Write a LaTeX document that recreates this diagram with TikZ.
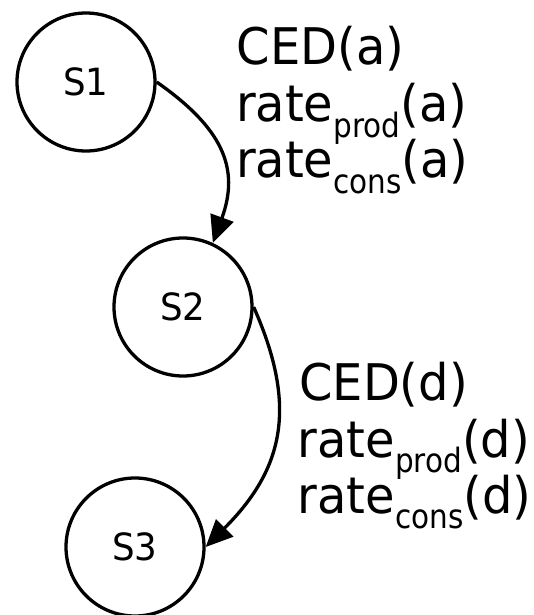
\documentclass[tikz,border=0pt]{standalone}
\usepackage{fontspec}
\setmainfont{DejaVu Sans}[FakeStretch=0.95]
\newfontfamily\subfont{DejaVu Sans}[FakeStretch=0.88]
\usetikzlibrary{arrows.meta}
% lowered, smaller index text (rate_prod, rate_cons)
\newcommand\lowsub[1]{\lower15.5pt\hbox{\subfont\fontsize{33.5pt}{36pt}\selectfont #1}}
\begin{document}
\begin{tikzpicture}[x=1pt,y=1pt,
  state/.style={circle,draw,line width=3.3pt,minimum size=138pt,inner sep=0pt,
    font=\fontsize{37.5pt}{40pt}\selectfont},
  trans/.style={line width=3.3pt,-{Triangle[length=27pt,width=24pt]}},
  lbl/.style={anchor=base west,inner sep=0pt,font=\fontsize{50.5pt}{55pt}\selectfont}]
\useasboundingbox (0,0) rectangle (533,-615);

% states
\node[state] (s1) at (86,-82) {S1};
\node[state] (s2) at (183,-307) {S2};
\node[state] (s3) at (135,-547) {S3};

% transitions
\draw[trans] (s1.east) to[out=-35,in=70,looseness=1.2] (s2.65);
\draw[trans] (s2.east) to[out=-66,in=45,looseness=1.15] (s3.east);

% transition labels
\node[lbl] (a1) at (236.5,-64.5) {CED(a)};
\node[lbl] (a2) at (235.8,-121.5) {rate\lowsub{prod}(a)};
\node[lbl] (a3) at (235.8,-177.5) {rate\lowsub{cons}(a)};
\node[lbl] (d1) at (299,-400) {CED(d)};
\node[lbl] (d2) at (297.5,-457) {rate\lowsub{prod}(d)};
\node[lbl] (d3) at (297.5,-513) {rate\lowsub{cons}(d)};
\end{tikzpicture}
\end{document}
